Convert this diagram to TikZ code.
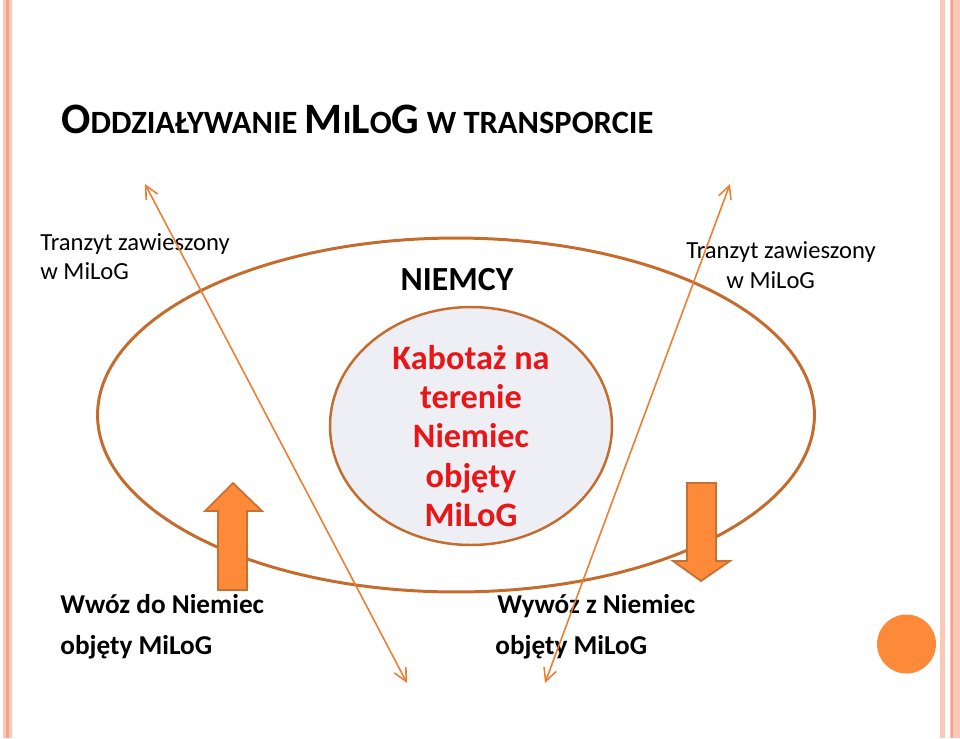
\documentclass[tikz,border=0pt]{standalone}
\usepackage{fontspec}
\setmainfont{Carlito}
\usetikzlibrary{arrows.meta,shapes.geometric,positioning}
\definecolor{ringcolor}{RGB}{196,108,46}
\definecolor{linecolor}{RGB}{237,125,49}
\definecolor{arrowfill}{RGB}{253,138,56}
\definecolor{arrowedge}{RGB}{200,112,52}
\definecolor{corecolor}{RGB}{238,239,245}
\definecolor{textred}{RGB}{232,22,22}
\definecolor{stripecolor}{RGB}{250,200,183}
\definecolor{stripeline}{RGB}{243,165,135}
\newcommand{\tbig}[1]{{\fontsize{24.7}{28}\selectfont #1}}

\begin{document}
\begin{tikzpicture}[
    x=0.02cm, y=-0.02cm,
    every node/.style={inner sep=0pt},
    ring/.style={ellipse, draw=ringcolor, line width=1.7pt, minimum width=14.34cm, minimum height=7.08cm},
    core/.style={ellipse, draw=ringcolor, fill=corecolor, line width=1.4pt, minimum width=5.64cm, minimum height=4.76cm},
    coretext/.style={text=textred, align=center, font=\fontsize{19.5}{22.4}\selectfont\bfseries},
    headline/.style={font=\fontsize{18.5}{21}\selectfont\bfseries},
    country/.style={font=\fontsize{19.2}{22}\selectfont\bfseries},
    transit/.style={font=\fontsize{14}{16}\selectfont},
    flow/.style={font=\fontsize{15.5}{19}\selectfont\bfseries},
    trace/.style={{Straight Barb[length=2.6mm,width=2.6mm]}-{Straight Barb[length=2.6mm,width=2.6mm]}, linecolor, line width=0.9pt},
    block/.style={fill=arrowfill, draw=arrowedge, line width=1pt, line join=miter},
    badge/.style={circle, fill=arrowfill, minimum size=1.18cm}
]
    \useasboundingbox (0,0) rectangle (960,738);

    % Stripes
    \fill[stripecolor] (3,0) rectangle (12,738);
    \fill[stripeline] (6,0) rectangle (9,738);
    \fill[stripecolor] (940,0) rectangle (945,738);
    \fill[stripecolor] (950,0) rectangle (960,738);
    \fill[stripeline] (951,0) rectangle (953,738);

    % Title
    \node[headline, anchor=base west] (title) at (61,133)
        {\tbig{O}DDZIAŁYWANIE \tbig{M}I\tbig{L}O\tbig{G} W TRANSPORCIE};

    % Nodes
    \node[ring] (germany) at (456,415) {};
    \node[core] (core) at (471,426) {};
    \node[coretext] (cabotage) at (471,436) {Kabotaż na\\terenie\\Niemiec\\objęty\\MiLoG};
    \node[country, anchor=base] (niemcy) at (457,290) {NIEMCY};

    \node[transit, anchor=base west] (tranL1) at (40,250) {Tranzyt zawieszony};
    \node[transit, anchor=base west] (tranL2) at (40,279) {w MiLoG};
    \node[transit, anchor=base west] (tranR1) at (686,258) {Tranzyt zawieszony};
    \node[transit, anchor=base west] (tranR2) at (726,288) {w MiLoG};

    \node[flow, anchor=base west] (importL1) at (60,613) {Wwóz do Niemiec};
    \node[flow, anchor=base west] (importL2) at (60,654) {objęty MiLoG};
    \node[flow, anchor=base west] (exportL1) at (497,613) {Wywóz z Niemiec};
    \node[flow, anchor=base west] (exportL2) at (495,654) {objęty MiLoG};

    \node[badge] (badge) at (906.5,644) {};

    % Block arrows
    \draw[block] (233,483) -- (262,511) -- (247,511) -- (247,590) -- (218,590) -- (218,511) -- (205,511) -- cycle;
    \draw[block] (701,581) -- (730,561) -- (716,561) -- (716,483) -- (687,483) -- (687,561) -- (673,561) -- cycle;

    % Edges
    \coordinate (traceAbot) at (407,683);
    \coordinate (traceAtop) at (145,184);
    \coordinate (traceBbot) at (545,683);
    \coordinate (traceBtop) at (730,184);
    \draw[trace] (traceAbot) -- (traceAtop);
    \draw[trace] (traceBbot) -- (traceBtop);
\end{tikzpicture}
\end{document}
